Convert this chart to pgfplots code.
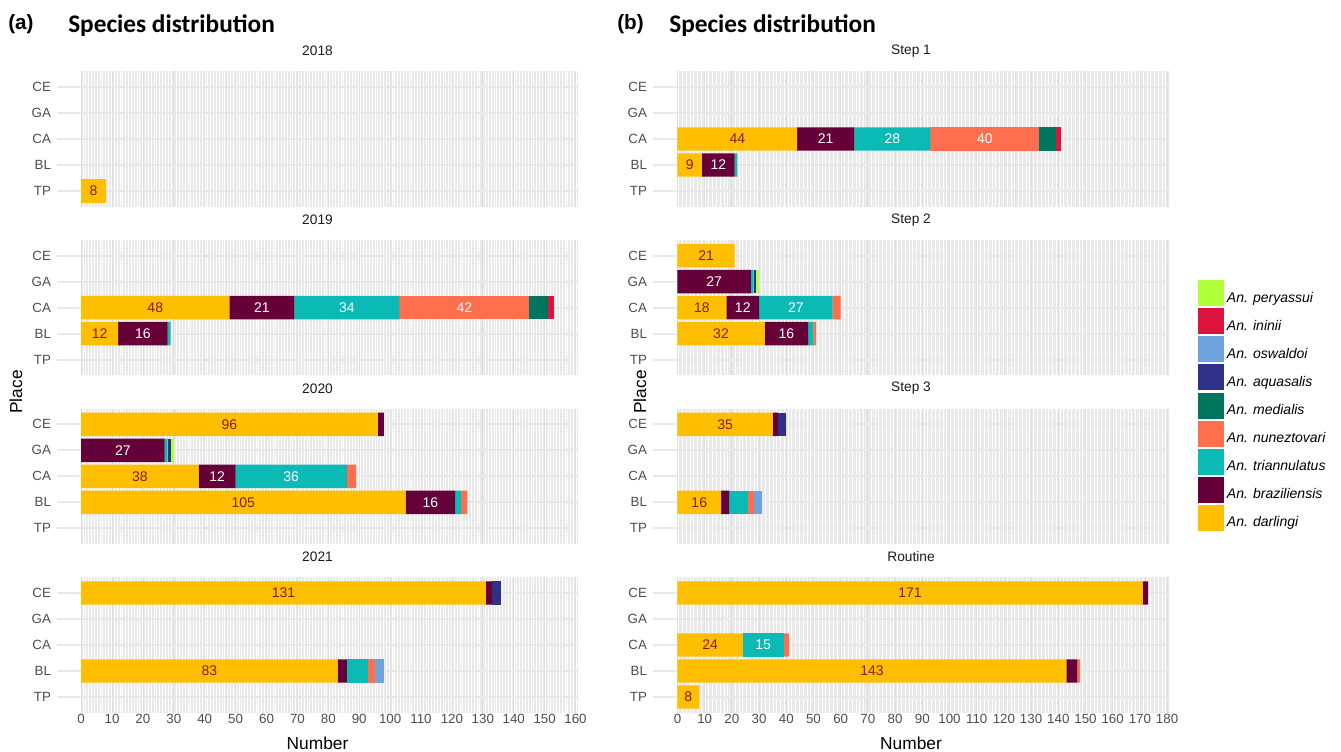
\documentclass[border=0pt]{standalone}
\usepackage{fontspec}
\setmainfont{Liberation Sans}
\newfontfamily\titlefont{Carlito}
\usepackage{pgfplots}
\usepackage{pgfplotstable}
\pgfplotsset{compat=1.18}

\definecolor{cdar}{HTML}{FDBF00}
\definecolor{cbra}{HTML}{660038}
\definecolor{ctri}{HTML}{0CBAB5}
\definecolor{cnun}{HTML}{FF6F4E}
\definecolor{cmed}{HTML}{00755E}
\definecolor{caqu}{HTML}{2E3188}
\definecolor{cosw}{HTML}{6FA3DE}
\definecolor{cini}{HTML}{DC143C}
\definecolor{cper}{HTML}{B0FF3A}
\definecolor{cdarlbl}{HTML}{8B1A1A}
\definecolor{tickgray}{HTML}{4D4D4D}
\definecolor{stripgray}{HTML}{1A1A1A}

% y: 1=TP 2=BL 3=CA 4=GA 5=CE
\pgfplotstableread{
y dar bra tri nun med aqu osw ini per
1 8 0 0 0 0 0 0 0 0
}\tA
\pgfplotstableread{
y dar bra tri nun med aqu osw ini per
2 12 16 1 0 0 0 0 0 0
3 48 21 34 42 6 0 0 2 0
}\tB
\pgfplotstableread{
y dar bra tri nun med aqu osw ini per
2 105 16 2 2 0 0 0 0 0
3 38 12 36 3 0 0 0 0 0
4 0 27 1 0 0 1 0 0 1
5 96 2 0 0 0 0 0 0 0
}\tC
\pgfplotstableread{
y dar bra tri nun med aqu osw ini per
2 83 3 7 2 0 0 3 0 0
5 131 2 0 0 0 3 0 0 0
}\tD
\pgfplotstableread{
y dar bra tri nun med aqu osw ini per
2 9 12 1 0 0 0 0 0 0
3 44 21 28 40 6 0 0 2 0
}\sA
\pgfplotstableread{
y dar bra tri nun med aqu osw ini per
2 32 16 2 1 0 0 0 0 0
3 18 12 27 3 0 0 0 0 0
4 0 27 1 0 0 1 0 0 1
5 21 0 0 0 0 0 0 0 0
}\sB
\pgfplotstableread{
y dar bra tri nun med aqu osw ini per
2 16 3 7 2 0 0 3 0 0
5 35 2 0 0 0 3 0 0 0
}\sC
\pgfplotstableread{
y dar bra tri nun med aqu osw ini per
1 8 0 0 0 0 0 0 0 0
2 143 4 0 1 0 0 0 0 0
3 24 0 15 2 0 0 0 0 0
5 171 2 0 0 0 0 0 0 0
}\sD

\newcommand\lbl{\fontsize{10.5}{12}\selectfont}
\newcommand\seg[3]{%
  \addplot[fill=#1, draw=none] table[x=#2, y=y] {#3};}
\newcommand\bars[1]{%
  \seg{cdar}{dar}{#1}
  \seg{cbra}{bra}{#1}
  \seg{ctri}{tri}{#1}
  \seg{cnun}{nun}{#1}
  \seg{cmed}{med}{#1}
  \seg{caqu}{aqu}{#1}
  \seg{cosw}{osw}{#1}
  \seg{cini}{ini}{#1}
  \seg{cper}{per}{#1}}
% value labels, centred in each segment (overlay axis, not stacked)
\newcommand\labels[1]{%
  \addplot[lblplot=cdarlbl] table[x expr=\thisrow{dar}/2, y=y, meta=dar] {#1};
  \addplot[lblplot=white] table[x expr=\thisrow{dar}+\thisrow{bra}/2, y=y, meta=bra] {#1};
  \addplot[lblplot=white] table[x expr=\thisrow{dar}+\thisrow{bra}+\thisrow{tri}/2, y=y, meta=tri] {#1};
  \addplot[lblplot=white] table[x expr=\thisrow{dar}+\thisrow{bra}+\thisrow{tri}+\thisrow{nun}/2, y=y, meta=nun] {#1};}

\pgfplotsset{
  lblplot/.style={draw=none, mark=none, point meta=explicit symbolic,
    nodes near coords={\ifnum\pgfplotspointmeta<8 \else\pgfplotspointmeta\fi},
    every node near coord/.append style={anchor=center, inner sep=0pt, font=\lbl, text=#1}},
  common/.style={
    scale only axis, height=101.4pt, xbar stacked, bar width=0.9,
    ymin=0.4, ymax=5.6, ytick={1,2,3,4,5}, yticklabels={TP,BL,CA,GA,CE},
    axis line style={draw=none}, major tick length=0pt, minor tick length=0pt,
    xmajorgrids, xminorgrids, ymajorgrids,
    major x grid style={color=gray!26, line width=0.6pt},
    minor x grid style={color=gray!17, line width=0.35pt},
    major y grid style={color=gray!17, line width=1.4pt},
    tick label style={font=\fontsize{10}{12}\selectfont, text=tickgray},
    /pgf/number format/assume math mode=true,
    title style={font=\fontsize{10.3}{12}\selectfont, text=stripgray, at={(0.5,1)}, anchor=center, yshift=9.3pt},
    yticklabel style={xshift=-1pt},
    xticklabel style={yshift=2.25pt},
    xlabel style={font=\fontsize{13}{15}\selectfont, inner sep=0pt, at={(axis description cs:0.5,0)}, anchor=center, yshift=-23pt},
    anchor=north west,
  },
  facetA/.style={common, width=390.75pt, xmin=-7.8, xmax=160.8,
    xtick={0,10,...,160}, minor xtick={0,0.5,...,160.5},
    extra x ticks={47}, extra x tick labels={},
    extra x tick style={major grid style={color=gray!60, line width=0.5pt}}},
  facetB/.style={common, width=387pt, xmin=-9, xmax=180.7,
    xtick={0,10,...,180}, minor xtick={0,0.5,...,180.5}},
  ovA/.style={scale only axis, width=390.75pt, height=101.4pt, xmin=-7.8, xmax=160.8,
    ymin=0.4, ymax=5.6, hide axis, anchor=north west, clip=false},
  ovB/.style={scale only axis, width=387pt, height=101.4pt, xmin=-9, xmax=180.7,
    ymin=0.4, ymax=5.6, hide axis, anchor=north west, clip=false},
}

\begin{document}
\begin{tikzpicture}
\useasboundingbox (0,0) rectangle (1005.75pt,-563.25pt);

% titles
\node[anchor=base west, inner sep=0, font=\fontsize{15.5}{17}\selectfont\bfseries] at (6pt,-21.8pt) {(a)};
\node[anchor=base west, inner sep=0, font=\fontsize{19}{21}\selectfont\titlefont\bfseries] at (51pt,-24.2pt) {Species distribution};
\node[anchor=base west, inner sep=0, font=\fontsize{15.5}{17}\selectfont\bfseries] at (462.75pt,-21.8pt) {(b)};
\node[anchor=base west, inner sep=0, font=\fontsize{19}{21}\selectfont\titlefont\bfseries] at (501.75pt,-24.2pt) {Species distribution};
\node[rotate=90, inner sep=0, font=\fontsize{13}{15}\selectfont] at (12pt,-294pt) {Place};
\node[rotate=90, inner sep=0, font=\fontsize{13}{15}\selectfont] at (480pt,-294pt) {Place};

% panel (a)
\begin{axis}[facetA, at={(42.75pt,-53.55pt)}, title={2018}, xticklabels={}]
\bars{\tA}
\end{axis}
\begin{axis}[ovA, at={(42.75pt,-53.55pt)}]
\labels{\tA}
\end{axis}
\begin{axis}[facetA, at={(42.75pt,-180.05pt)}, title={2019}, xticklabels={}]
\bars{\tB}
\end{axis}
\begin{axis}[ovA, at={(42.75pt,-180.05pt)}]
\labels{\tB}
\end{axis}
\begin{axis}[facetA, at={(42.75pt,-306.55pt)}, title={2020}, xticklabels={}]
\bars{\tC}
\end{axis}
\begin{axis}[ovA, at={(42.75pt,-306.55pt)}]
\labels{\tC}
\end{axis}
\begin{axis}[facetA, at={(42.75pt,-433.05pt)}, title={2021}, xlabel={Number}]
\bars{\tD}
\end{axis}
\begin{axis}[ovA, at={(42.75pt,-433.05pt)}]
\labels{\tD}
\end{axis}

% panel (b)
\begin{axis}[facetB, at={(489.75pt,-53.55pt)}, title={Step 1}, xticklabels={},
    extra x ticks={88.2,124.2,146.8}, extra x tick labels={},
    extra x tick style={major grid style={color=gray!55, line width=0.5pt}}]
\bars{\sA}
\end{axis}
\begin{axis}[ovB, at={(489.75pt,-53.55pt)}]
\labels{\sA}
\end{axis}
\begin{axis}[facetB, at={(489.75pt,-180.05pt)}, title={Step 2}, xticklabels={}]
\bars{\sB}
\end{axis}
\begin{axis}[ovB, at={(489.75pt,-180.05pt)}]
\labels{\sB}
\end{axis}
\begin{axis}[facetB, at={(489.75pt,-306.55pt)}, title={Step 3}, xticklabels={}]
\bars{\sC}
\end{axis}
\begin{axis}[ovB, at={(489.75pt,-306.55pt)}]
\labels{\sC}
\end{axis}
\begin{axis}[facetB, at={(489.75pt,-433.05pt)}, title={Routine}, xlabel={Number},
    legend style={at={(1.0562,3.2)}, anchor=north west, draw=none, fill=none,
      inner sep=0pt, font=\fontsize{10.5}{12}\selectfont\itshape, row sep=1pt,
      legend cell align=left},
    reverse legend,
    legend image code/.code={\fill[#1] (0pt,-6pt) rectangle (19.5pt,13.5pt);},
    legend entries={An. darlingi, An. braziliensis, An. triannulatus, An. nuneztovari,
      An. medialis, An. aquasalis, An. oswaldoi, An. ininii, An. peryassui}]
\bars{\sD}
\end{axis}
\begin{axis}[ovB, at={(489.75pt,-433.05pt)}]
\labels{\sD}
\end{axis}
\end{tikzpicture}
\end{document}
